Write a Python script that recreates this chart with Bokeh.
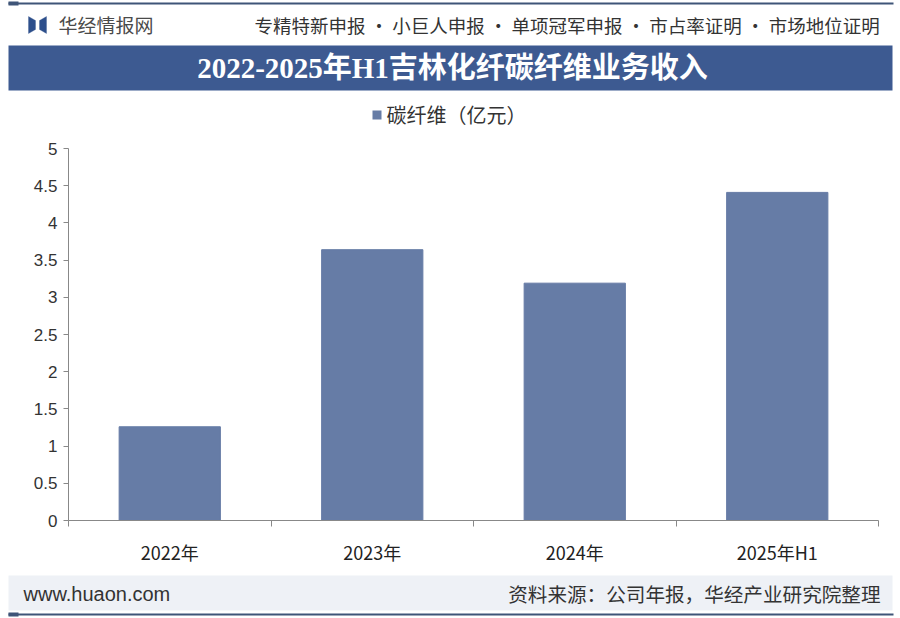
from bokeh.plotting import figure
from bokeh.models import (Label, BoxAnnotation, PolyAnnotation, FixedTicker,
                          ColumnDataSource, Range1d)
from bokeh.layouts import column, row
from bokeh.embed import file_html
from bokeh.resources import INLINE

# ---- data ----
categories = ["2022年", "2023年", "2024年", "2025年H1"]
revenue = [1.26, 3.64, 3.19, 4.41]
y_ticks = [0, 0.5, 1, 1.5, 2, 2.5, 3, 3.5, 4, 4.5, 5]
y_tick_labels = ["0", "0.5", "1", "1.5", "2", "2.5", "3", "3.5", "4", "4.5", "5"]
title_text = "2022-2025年H1吉林化纤碳纤维业务收入"
legend_text = "碳纤维（亿元）"
brand_text = "华经情报网"
header_right = "专精特新申报 · 小巨人申报 · 单项冠军申报 · 市占率证明 · 市场地位证明"
footer_left = "www.huaon.com"
footer_right = "资料来源：公司年报，华经产业研究院整理"

BAR = "#667ca6"
DARK = "#3d5a91"
LINE = "#3f5578"
CJK = "Noto Sans CJK SC"
W = 900


def blank(hgt):
    f = figure(width=W, height=hgt, output_backend="svg", toolbar_location=None,
               x_range=Range1d(0, W), y_range=Range1d(hgt, 0), tools="",
               min_border=0)
    f.axis.visible = False
    f.grid.visible = False
    f.outline_line_color = None
    f.background_fill_color = "white"
    f.border_fill_color = "white"
    return f


def box(l, r, t, b, c, **kw):
    return BoxAnnotation(left=l, right=r, top=t, bottom=b, fill_color=c,
                         fill_alpha=1, line_color=None, **kw)


# ---- header ----
HH = 130
h = blank(HH)
h.add_layout(box(8, 893, 2, 4, LINE))
h.add_layout(box(8, 18, 1, 5, LINE))
h.add_layout(PolyAnnotation(xs=[28, 35, 35, 28], ys=[16, 20, 29, 33],
                            fill_color="#2d4f8c", line_color="#2d4f8c", fill_alpha=1))
h.add_layout(PolyAnnotation(xs=[46, 39, 39, 46], ys=[16, 20, 29, 33],
                            fill_color="#2d4f8c", line_color="#2d4f8c", fill_alpha=1))
h.add_layout(Label(x=58, y=24, text=brand_text, text_font=CJK, text_font_size="19px",
                   text_color="#4a4a4a", text_baseline="middle"))
h.add_layout(Label(x=254, y=24, text=header_right, text_font=CJK, text_font_size="18.5px",
                   text_color="#333333", text_baseline="middle", text_align="left"))
h.add_layout(box(8, 892, 45, 90, DARK))
h.add_layout(Label(x=452, y=67, text=title_text,
                   text_font="Liberation Serif, Noto Sans CJK SC", text_font_size="29px",
                   text_font_style="bold", text_color="white",
                   text_baseline="middle", text_align="center"))
h.add_layout(box(372, 381, 110, 119, BAR))
h.add_layout(Label(x=386, y=114, text=legend_text, text_font=CJK, text_font_size="20px",
                   text_color="#333333", text_baseline="middle"))

# ---- main chart ----
x_pos = [i + 0.5 for i in range(len(categories))]
src = ColumnDataSource(dict(x=x_pos, top=revenue, cat=categories))

p = figure(width=W, height=440, output_backend="svg", toolbar_location=None,
           x_range=Range1d(0, len(categories)), y_range=Range1d(0, 5),
           min_border_left=68, min_border_right=22, min_border_top=18,
           min_border_bottom=50, tools="")
p.background_fill_color = "white"
p.border_fill_color = "white"
p.outline_line_color = None
p.grid.visible = False

p.vbar(x="x", top="top", width=0.5, bottom=0, source=src,
       fill_color=BAR, line_color=BAR)

xa = p.xaxis[0]
xa.ticker = FixedTicker(ticks=x_pos, minor_ticks=list(range(len(categories) + 1)))
xa.major_label_overrides = {x: c for x, c in zip(x_pos, categories)}
xa.major_tick_line_color = None
xa.major_tick_out = 0
xa.major_tick_in = 0
xa.minor_tick_line_color = "#888888"
xa.minor_tick_out = 6
xa.minor_tick_in = 0
xa.axis_line_color = "#888888"
xa.major_label_standoff = 12
xa.major_label_text_font = CJK
xa.major_label_text_font_size = "18px"
xa.major_label_text_color = "#222222"

ya = p.yaxis[0]
ya.ticker = FixedTicker(ticks=y_ticks)
ya.major_label_overrides = {t: l for t, l in zip(y_ticks, y_tick_labels)}
ya.minor_tick_line_color = None
ya.major_tick_out = 5
ya.major_tick_in = 0
ya.major_tick_line_color = "#888888"
ya.axis_line_color = "#888888"
ya.major_label_standoff = 6
ya.major_label_text_font = "Liberation Sans"
ya.major_label_text_font_size = "17px"
ya.major_label_text_color = "#333333"

# ---- footer ----
FH = 48
f = blank(FH)
f.add_layout(box(8, 892, 5, 40, "#eef1f6"))
f.add_layout(Label(x=23, y=23, text=footer_left, text_font="Liberation Sans",
                   text_font_size="20px", text_color="#333333", text_baseline="middle"))
f.add_layout(Label(x=880, y=23, text=footer_right, text_font=CJK, text_font_size="19.6px",
                   text_color="#333333", text_baseline="middle", text_align="right"))
f.add_layout(box(8, 893, 43, 45, LINE))
f.add_layout(box(8, 18, 42, 46, LINE))

layout = column(row(h), row(p), row(f), spacing=0)
open("out.html", "w").write(file_html(layout, INLINE))
